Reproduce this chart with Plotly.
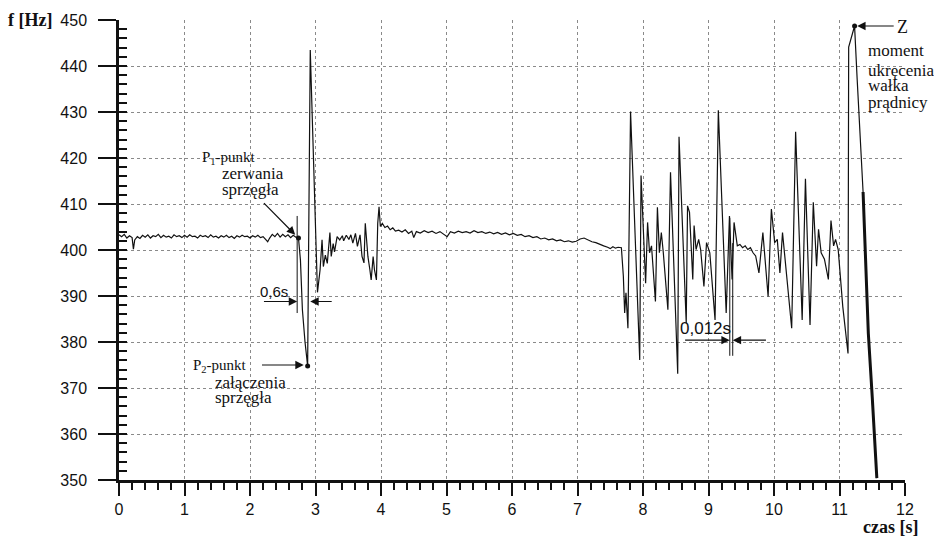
import plotly.graph_objects as go

# time [s] and frequency [Hz]
t = [0.00, 0.04, 0.08, 0.12, 0.16, 0.20, 0.22, 0.24, 0.28, 0.32, 0.36, 0.40, 0.44, 0.48, 0.52,
     0.56, 0.60, 0.64, 0.68, 0.72, 0.76, 0.80, 0.84, 0.88, 0.92, 0.96, 1.00, 1.04, 1.08, 1.12,
     1.16, 1.20, 1.24, 1.28, 1.32, 1.36, 1.40, 1.44, 1.48, 1.52, 1.56, 1.60, 1.64, 1.68, 1.72,
     1.76, 1.80, 1.84, 1.88, 1.92, 1.96, 2.00, 2.04, 2.08, 2.12, 2.16, 2.20, 2.24, 2.27, 2.30,
     2.34, 2.38, 2.42, 2.46, 2.50, 2.54, 2.58, 2.62, 2.66, 2.70, 2.74, 2.77, 2.80, 2.84, 2.88,
     2.92, 3.03, 3.07, 3.10, 3.12, 3.15, 3.18, 3.22, 3.24, 3.27, 3.29, 3.33, 3.37, 3.41, 3.43,
     3.47, 3.51, 3.54, 3.57, 3.61, 3.64, 3.68, 3.71, 3.74, 3.76, 3.80, 3.83, 3.85, 3.88, 3.90,
     3.93, 3.95, 3.97, 3.99, 4.02, 4.06, 4.10, 4.14, 4.18, 4.22, 4.27, 4.32, 4.37, 4.42, 4.47,
     4.50, 4.54, 4.60, 4.66, 4.72, 4.78, 4.84, 4.90, 4.96, 5.01, 5.06, 5.12, 5.18, 5.24, 5.30,
     5.36, 5.42, 5.48, 5.54, 5.60, 5.66, 5.72, 5.78, 5.84, 5.90, 5.96, 6.02, 6.08, 6.14, 6.20,
     6.26, 6.32, 6.38, 6.44, 6.50, 6.56, 6.62, 6.68, 6.74, 6.80, 6.86, 6.92, 6.98, 7.04, 7.10,
     7.16, 7.22, 7.28, 7.34, 7.40, 7.46, 7.50, 7.54, 7.58, 7.62, 7.67, 7.70, 7.72, 7.74, 7.77,
     7.81, 7.95, 7.97, 8.04, 8.07, 8.10, 8.13, 8.19, 8.22, 8.25, 8.28, 8.31, 8.38, 8.42, 8.53,
     8.55, 8.66, 8.68, 8.71, 8.76, 8.78, 8.81, 8.85, 8.88, 8.93, 8.97, 9.02, 9.10, 9.15, 9.27,
     9.32, 9.36, 9.39, 9.44, 9.48, 9.52, 9.56, 9.60, 9.64, 9.68, 9.72, 9.77, 9.83, 9.91, 9.96,
     10.01, 10.05, 10.09, 10.13, 10.27, 10.33, 10.43, 10.48, 10.55, 10.60, 10.65, 10.68, 10.72,
     10.77, 10.83, 10.87, 10.91, 10.94, 10.98, 11.05, 11.13, 11.14, 11.23, 11.27, 11.36, 11.44,
     11.50, 11.57]
f = [403.3, 402.9, 403.4, 402.6, 403.1, 402.7, 400.2, 402.2, 402.9, 402.5, 403.2, 402.8, 403.3, 402.6, 403.1,
     402.9, 403.4, 402.7, 403.2, 402.8, 403.0, 402.6, 403.3, 402.9, 403.1, 402.7, 403.2, 402.8, 403.3, 402.9,
     403.0, 402.6, 403.2, 402.9, 403.1, 402.7, 403.3, 402.8, 403.0, 402.6, 403.1, 402.8, 403.2, 402.7, 403.0,
     402.5, 403.1, 402.8, 403.2, 402.9, 403.0, 402.6, 403.1, 402.8, 403.2, 402.7, 402.9, 402.3, 401.8, 402.6,
     403.4, 402.9, 403.6, 402.8, 403.4, 402.9, 403.3, 402.7, 403.2, 402.8, 402.6, 397.8, 387.0, 380.0, 374.8,
     443.5, 390.8, 395.7, 402.2, 396.4, 398.9, 397.1, 403.8, 398.6, 401.4, 399.6, 402.9, 402.2, 403.1, 402.0,
     403.2, 402.3, 403.3, 401.5, 403.6, 400.8, 403.3, 398.6, 397.2, 405.8, 398.6, 395.7, 393.5, 398.6, 395.7,
     393.5, 405.8, 409.4, 405.1, 405.8, 404.9, 405.2, 404.4, 404.8, 404.1, 404.3, 403.9, 404.4, 403.6, 404.1,
     402.7, 404.0, 403.7, 404.2, 403.8, 404.1, 403.6, 404.0, 403.5, 402.9, 404.0, 403.7, 404.1, 403.8, 404.0,
     403.7, 404.2, 403.8, 404.0, 403.6, 403.9, 403.5, 403.8, 403.4, 403.7, 403.3, 403.6, 403.2, 403.4, 402.9,
     403.1, 402.7, 402.9, 402.4, 402.6, 402.2, 402.4, 402.0, 402.2, 401.8, 402.0, 401.7, 401.9, 402.4, 402.6,
     402.2, 401.8, 401.6, 401.2, 400.9, 400.6, 400.3, 400.7, 400.4, 400.6, 400.5, 394.3, 386.3, 390.7, 383.0,
     430.1, 376.1, 416.2, 392.8, 406.0, 399.4, 400.9, 388.8, 409.3, 399.4, 403.8, 399.4, 387.0, 416.9, 373.1,
     424.6, 384.1, 409.6, 408.2, 393.6, 405.3, 400.1, 402.3, 400.1, 392.1, 401.6, 399.4, 384.8, 430.4, 386.3,
     407.4, 393.6, 406.0, 400.9, 401.2, 400.5, 400.9, 400.1, 400.5, 399.4, 398.7, 395.0, 403.8, 389.9, 408.9,
     401.6, 402.3, 395.0, 403.8, 383.0, 425.7, 384.8, 415.5, 383.7, 410.4, 396.5, 404.5, 399.4,
     398.0, 393.6, 406.4, 400.9, 402.3, 400.1, 387.7, 377.5, 444.1, 448.7, 437.0, 412.6, 381.9,
     368.0, 350.4]

x_ticks = [0, 1, 2, 3, 4, 5, 6, 7, 8, 9, 10, 11, 12]
y_ticks = [350, 360, 370, 380, 390, 400, 410, 420, 430, 440, 450]
X_RANGE = [0, 12]
Y_RANGE = [350, 450]

marked_times = [2.74, 2.88, 11.23]   # P1, P2, Z
thick_from = 11.36                    # heavy final drop

SERIF = "Liberation Serif, Times New Roman, serif"
SANS = "Liberation Sans, Arial, sans-serif"
INK = "#111111"
PLOT_W = 786  # plot-area width in px

fig = go.Figure()
fig.add_trace(go.Scatter(x=t, y=f, mode="lines", line=dict(color=INK, width=1.2), hoverinfo="skip"))
i0 = t.index(thick_from)
fig.add_trace(go.Scatter(x=t[i0:], y=f[i0:], mode="lines", line=dict(color=INK, width=3), hoverinfo="skip"))
mi = [t.index(v) for v in marked_times]
fig.add_trace(go.Scatter(x=[t[i] for i in mi], y=[f[i] for i in mi], mode="markers",
                         marker=dict(color=INK, size=5), hoverinfo="skip"))
# helper trace so the inner minor-tick axis is drawn
fig.add_trace(go.Scatter(x=[t[0]], y=[f[0]], yaxis="y2", mode="markers",
                         marker=dict(opacity=0), hoverinfo="skip"))
# outward major tick dashes of the frequency axis (18 px long, left of the axis line)
x_off = X_RANGE[0] - 9 / PLOT_W * (X_RANGE[1] - X_RANGE[0])
fig.add_trace(go.Scatter(x=[x_off] * len(y_ticks), y=y_ticks, mode="markers", cliponaxis=False,
                         marker=dict(symbol="line-ew", size=18, color=INK,
                                     line=dict(width=2.5, color=INK)),
                         hoverinfo="skip"))

ann = []
def txt(x, y, s, size=17, font=SERIF, xanchor="left"):
    ann.append(dict(x=x, y=y, xref="x", yref="y", text=s, showarrow=False, xanchor=xanchor,
                    yanchor="middle", borderpad=0,
                    font=dict(family=font, size=size, color=INK)))

def arrow(xt, yt, xs, ys):
    ann.append(dict(x=xt, y=yt, ax=xs, ay=ys, xref="x", yref="y", axref="x", ayref="y",
                    text="", showarrow=True, arrowhead=2, arrowsize=1.4, arrowwidth=1.2,
                    arrowcolor=INK, standoff=0))

# P1
txt(1.25, 420.1, "P<sub>1</sub>-punkt", size=15)
txt(1.55, 416.6, "zerwania")
txt(1.55, 413.2, "sprzęgła")
arrow(2.69, 403.3, 2.19, 410.5)
# P2
txt(1.12, 374.8, "P<sub>2</sub>-punkt", size=15)
txt(1.45, 371.2, "załączenia")
txt(1.45, 367.9, "sprzęgła")
arrow(2.82, 375.0, 2.16, 375.0)
# 0,6s
txt(2.37, 390.9, "0,6s", size=15, font=SANS, xanchor="center")
arrow(2.72, 388.8, 2.19, 388.8)
arrow(2.92, 388.8, 3.27, 388.8)
# 0,012s
txt(8.96, 382.9, "0,012s", size=17, font=SANS, xanchor="center")
arrow(9.325, 380.4, 8.62, 380.4)
arrow(9.37, 380.4, 9.90, 380.4)
# Z
txt(11.87, 448.5, "Z", size=18)
arrow(11.27, 448.7, 11.85, 448.7)
txt(11.42, 443.3, "moment")
txt(11.42, 439.1, "ukręcenia")
txt(11.42, 435.7, "wałka")
txt(11.42, 432.0, "prądnicy")

# axis titles
ann.append(dict(x=-0.113, y=1.0, xref="paper", yref="paper", text="<b>f [Hz]</b>", showarrow=False,
                xanchor="center", yanchor="middle", borderpad=0,
                font=dict(family=SERIF, size=18, color=INK)))
ann.append(dict(x=0.981, y=-0.102, xref="paper", yref="paper", text="<b>czas [s]</b>", showarrow=False,
                xanchor="center", yanchor="middle", borderpad=0,
                font=dict(family=SERIF, size=18, color=INK)))

shapes = [
    dict(type="line", xref="x", yref="y", x0=2.72, x1=2.72, y0=386.3, y1=407.4, line=dict(color=INK, width=1)),
    dict(type="line", xref="x", yref="y", x0=9.325, x1=9.325, y0=377.0, y1=407.0, line=dict(color=INK, width=1)),
    dict(type="line", xref="x", yref="y", x0=9.37, x1=9.37, y0=377.0, y1=401.5, line=dict(color=INK, width=1)),
]

fig.update_layout(
    width=934, height=538, margin=dict(l=119, r=29, t=20, b=58),
    paper_bgcolor="white", plot_bgcolor="white", showlegend=False,
    annotations=ann, shapes=shapes,
    font=dict(family=SANS, size=16, color=INK),
    yaxis2=dict(overlaying="y", anchor="x", side="left", range=Y_RANGE, tick0=350, dtick=2,
                ticks="inside", ticklen=8, tickwidth=2, tickcolor=INK, showticklabels=False,
                showgrid=False, zeroline=False, showline=False, fixedrange=True),
)
fig.update_xaxes(range=X_RANGE, tickvals=x_ticks, ticktext=[str(v) for v in x_ticks],
                 ticks="outside", ticklen=13, tickwidth=2, tickcolor=INK,
                 showline=True, linewidth=2.5, linecolor=INK, zeroline=False,
                 showgrid=True, gridcolor="#8a8a8a", gridwidth=1, griddash="dot",
                 tickfont=dict(family=SANS, size=16, color=INK),
                 minor=dict(dtick=0.2, tick0=0, ticks="outside", ticklen=7, tickwidth=2,
                            tickcolor=INK, showgrid=False))
fig.layout.yaxis.update(range=Y_RANGE, tickvals=y_ticks, ticktext=[str(v) for v in y_ticks],
                        ticks="outside", ticklen=18, tickwidth=2, tickcolor=INK, ticklabelstandoff=8,
                        showline=True, linewidth=2.5, linecolor=INK, zeroline=False,
                        showgrid=True, gridcolor="#8a8a8a", gridwidth=1, griddash="dot",
                        tickfont=dict(family=SANS, size=16, color=INK))

fig.write_html("out.html")
